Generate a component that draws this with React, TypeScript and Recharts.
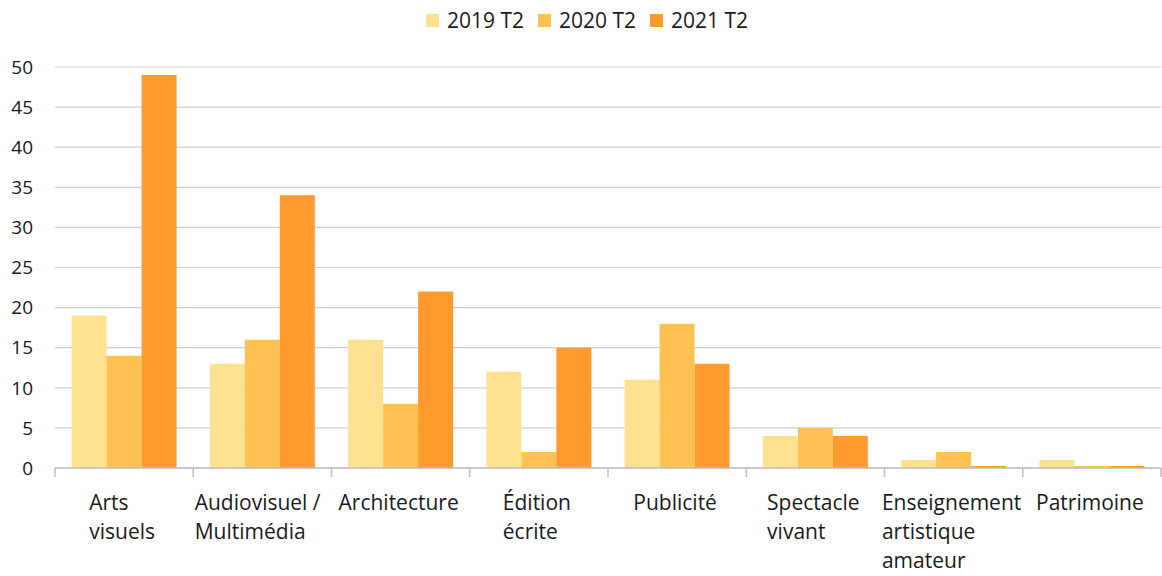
import React from "react";
import { BarChart, Bar, XAxis, YAxis, CartesianGrid } from "recharts";

const categories = [
  "Arts\nvisuels",
  "Audiovisuel / \nMultimédia",
  "Architecture",
  "Édition\nécrite",
  "Publicité",
  "Spectacle\nvivant",
  "Enseignement\nartistique\namateur",
  "Patrimoine",
];
const series2019 = [19, 13, 16, 12, 11, 4, 1, 1];
const series2020 = [14, 16, 8, 2, 18, 5, 2, 0];
const series2021 = [49, 34, 22, 15, 13, 4, 0, 0];
const yTicks = [0, 5, 10, 15, 20, 25, 30, 35, 40, 45, 50];
const seriesNames = ["2019 T2", "2020 T2", "2021 T2"];
const colors = ["#FFE290", "#FFC252", "#FF9A2C"];

const data = categories.map((c, i) => ({
  name: c,
  s2019: series2019[i],
  s2020: series2020[i],
  s2021: series2021[i],
}));

const FONT = "'Open Sans', 'Noto Sans', sans-serif";
const W = 1162;
const H = 576;
const XH = 30;
const M = { top: 67, right: 1, left: 0, bottom: 108 - XH };
const YW = 55;
const band = (W - M.left - M.right - YW) / categories.length;

let ctx: CanvasRenderingContext2D | null = null;
function measure(t: string, size: number) {
  if (!ctx) {
    const c = document.createElement("canvas");
    ctx = c.getContext("2d");
  }
  if (!ctx) return t.length * size * 0.55;
  ctx.font = `${size}px 'Open Sans'`;
  return ctx.measureText(t).width;
}

const XTick = (props: any) => {
  const { x, y, payload, index } = props;
  const lines = String(payload.value).split("\n");
  const fs = 21;
  const maxW = Math.max(...lines.map((l) => measure(l, fs)));
  const left = x - maxW / 2 - 2;
  return (
    <g>
      <line x1={x - band / 2} x2={x - band / 2} y1={y} y2={y + 9} stroke="#bfbfbf" strokeWidth={1.5} />
      {index === categories.length - 1 && (
        <line x1={x + band / 2} x2={x + band / 2} y1={y} y2={y + 9} stroke="#bfbfbf" strokeWidth={1.5} />
      )}
      {lines.map((l, i) => (
        <text key={i} x={left} y={y + 42 + i * 29} fontSize={fs} fontFamily={FONT} fill="#1a1a1a" textAnchor="start">
          {l}
        </text>
      ))}
    </g>
  );
};

const LegendBox = () => (
  <div
    style={{
      position: "absolute",
      top: 5,
      left: 0,
      width: W,
      paddingLeft: 12,
      boxSizing: "border-box",
      display: "flex",
      justifyContent: "center",
      fontFamily: FONT,
      fontSize: 21,
      color: "#1a1a1a",
      lineHeight: "30px",
    }}
  >
    {seriesNames.map((n, i) => (
      <div key={n} style={{ display: "flex", alignItems: "center", marginRight: i < 2 ? 14 : 0 }}>
        <div style={{ width: 13, height: 13, background: colors[i], marginRight: 8 }} />
        <span>{n}</span>
      </div>
    ))}
  </div>
);

export default function App() {
  return (
    <div style={{ position: "absolute", left: 0, top: 0, width: W, height: H, background: "#fff" }}>
      <BarChart width={W} height={H} data={data} margin={M} barCategoryGap="12%" barGap={0}>
        <CartesianGrid vertical={false} stroke="#d0d0d0" strokeWidth={1.2} />
        <XAxis
          dataKey="name"
          height={XH}
          interval={0}
          tick={<XTick />}
          tickLine={false}
          axisLine={{ stroke: "#bfbfbf", strokeWidth: 1.5 }}
          tickSize={0}
          tickMargin={0}
        />
        <YAxis
          width={YW}
          domain={[0, 50]}
          ticks={yTicks}
          interval={0}
          axisLine={false}
          tickLine={false}
          tickSize={0}
          tickMargin={22}
          tick={{ fontSize: 19, fontFamily: FONT, fill: "#1a1a1a" }}
        />
        <Bar dataKey="s2019" name={seriesNames[0]} fill={colors[0]} isAnimationActive={false} minPointSize={2} />
        <Bar dataKey="s2020" name={seriesNames[1]} fill={colors[1]} isAnimationActive={false} minPointSize={2} />
        <Bar dataKey="s2021" name={seriesNames[2]} fill={colors[2]} isAnimationActive={false} minPointSize={2} />
      </BarChart>
      <LegendBox />
    </div>
  );
}
